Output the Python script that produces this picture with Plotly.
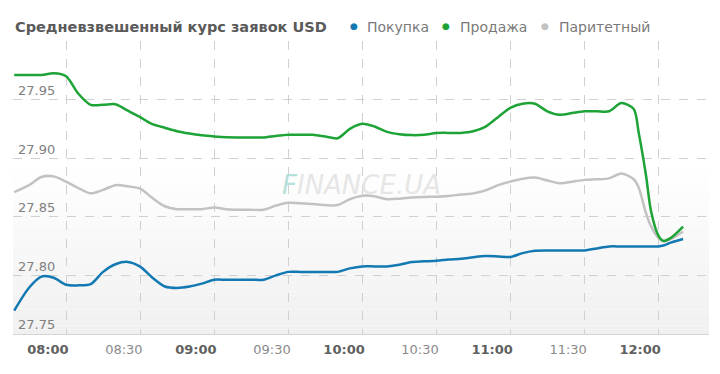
import plotly.graph_objects as go

# minutes after 08:00
minutes = [-21, -15, -10, -5, 0, 5, 10, 15, 20, 25, 30, 35, 40, 45, 50, 55, 60, 65, 70, 75,
           80, 85, 90, 95, 100, 105, 110, 115, 120, 125, 130, 135, 140, 145, 150, 155, 160,
           165, 170, 175, 180, 185, 190, 195, 200, 205, 210, 215, 220, 225, 230, 232, 235,
           237, 240, 242, 245, 250]

sell = [27.971, 27.971, 27.971, 27.9725, 27.970, 27.955, 27.9455, 27.9455, 27.946, 27.9405,
        27.935, 27.929, 27.926, 27.923, 27.921, 27.9195, 27.9185, 27.9178, 27.9177, 27.9177,
        27.9177, 27.919, 27.920, 27.920, 27.920, 27.9185, 27.917, 27.925, 27.9293, 27.927,
        27.9225, 27.9205, 27.9197, 27.920, 27.9215, 27.9216, 27.9216, 27.923, 27.927, 27.935,
        27.943, 27.9465, 27.9465, 27.940, 27.937, 27.9385, 27.940, 27.940, 27.940, 27.947,
        27.942, 27.922, 27.885, 27.855, 27.834, 27.8295, 27.832, 27.8417]

parity = [27.871, 27.877, 27.884, 27.8845, 27.880, 27.8745, 27.870, 27.873, 27.877, 27.876,
          27.874, 27.866, 27.859, 27.8565, 27.8565, 27.8565, 27.858, 27.8565, 27.856, 27.856,
          27.856, 27.8595, 27.862, 27.8615, 27.861, 27.860, 27.860, 27.865, 27.868, 27.8675,
          27.865, 27.8655, 27.8665, 27.867, 27.8672, 27.8678, 27.869, 27.870, 27.8725, 27.877,
          27.880, 27.8825, 27.8835, 27.881, 27.8786, 27.880, 27.8815, 27.882, 27.8828, 27.887,
          27.882, 27.875, 27.853, 27.842, 27.832, 27.829, 27.831, 27.8375]

buy = [27.770, 27.7895, 27.799, 27.798, 27.792, 27.7915, 27.7925, 27.803, 27.8095, 27.8115,
       27.8075, 27.798, 27.7905, 27.7893, 27.7905, 27.793, 27.7963, 27.7963, 27.7963, 27.7963,
       27.7963, 27.800, 27.803, 27.803, 27.803, 27.803, 27.803, 27.806, 27.8077, 27.8077,
       27.8077, 27.809, 27.8114, 27.812, 27.8125, 27.8135, 27.8142, 27.8155, 27.8165, 27.8162,
       27.8157, 27.819, 27.821, 27.8213, 27.8213, 27.8213, 27.8213, 27.823, 27.8247, 27.8247,
       27.8247, 27.8247, 27.8247, 27.8247, 27.8247, 27.8255, 27.828, 27.831]

tick_times = ["08:00", "08:30", "09:00", "09:30", "10:00", "10:30", "11:00", "11:30", "12:00"]
y_ticks = [27.75, 27.80, 27.85, 27.90, 27.95, 28.00]
y_labels = ["27.75", "27.80", "27.85", "27.90", "27.95", ""]

series_names = ["Покупка", "Продажа", "Паритетный"]
series_colors = ["#1379b2", "#1da336", "#c2c2c2"]
title_text = "Средневзвешенный курс заявок USD"

DAY = "2013-01-01"


def to_ts(m):
    total = 8 * 60 * 60 + int(round(m * 60))
    h, rem = divmod(total, 3600)
    mi, s = divmod(rem, 60)
    return f"{DAY} {h:02d}:{mi:02d}:{s:02d}"


xs = [to_ts(m) for m in minutes]

fig = go.Figure()
# draw gray first, then green, then blue on top
for name, vals, col in [(series_names[2], parity, series_colors[2]),
                        (series_names[1], sell, series_colors[1]),
                        (series_names[0], buy, series_colors[0])]:
    fig.add_trace(go.Scatter(x=xs, y=vals, mode="lines", name=name,
                             line=dict(color=col, width=2.5, shape="spline", smoothing=0.8),
                             showlegend=False, hoverinfo="skip"))

# background gradient (white top -> light gray bottom)
N = 40
g_top = 0.58
for i in range(N):
    y0 = g_top * i / N
    y1 = g_top * (i + 1) / N
    frac = 1 - (i + 0.5) / N
    c = int(round(255 - 15 * frac))
    fig.add_shape(type="rect", xref="paper", yref="paper", x0=0, x1=1, y0=y0, y1=y1,
                  fillcolor=f"rgb({c},{c},{c})", line=dict(width=0), layer="below")

tickvals = [f"{DAY} {t}:00" for t in tick_times]
ticktext = []
for t in tick_times:
    if t.endswith(":00"):
        ticktext.append(f"<b><span style='color:#606060'>{t}</span></b>")
    else:
        ticktext.append(f"<span style='color:#8a8a8a'>{t}</span>")

fig.update_xaxes(type="date", range=[to_ts(-21.5), to_ts(260.5)],
                 tickmode="array", tickvals=tickvals, ticktext=ticktext,
                 ticklabelposition="outside left", ticklabelstandoff=3, ticklabelshift=3,
                 tickfont=dict(family="DejaVu Sans", size=13, color="#606060"),
                 showgrid=True, gridcolor="#d0d0d0", griddash="dash", gridwidth=1,
                 showline=True, linecolor="#d4d4d4", linewidth=1,
                 ticks="", zeroline=False, fixedrange=True)
fig.update_yaxes(range=[27.75, 28.00], tickmode="array", tickvals=y_ticks, ticktext=y_labels,
                 ticklabelposition="inside top", ticklabelstandoff=2,
                 tickfont=dict(family="DejaVu Sans", size=13, color="#808080"),
                 showgrid=True, gridcolor="#d0d0d0", griddash="dash", gridwidth=1,
                 showline=False, ticks="", zeroline=False, fixedrange=True)

annotations = [
    dict(text=f"<b>{title_text}</b>", x=13, y=374 - 26.5,
         showarrow=False, xanchor="left", yanchor="middle",
         font=dict(family="DejaVu Sans", size=14.5, color="#5a5a5a")),
]
legend_dot_x = [354, 446.5, 545]
legend_text_x = [365, 458, 556.5]
for name, col, dx, tx in zip(series_names, series_colors, legend_dot_x, legend_text_x):
    annotations.append(dict(text="●", x=dx, y=374 - 25.5, showarrow=False,
                            xanchor="center", yanchor="middle",
                            font=dict(family="DejaVu Sans", size=9, color=col)))
    annotations.append(dict(text=name, x=tx, y=374 - 26.5, showarrow=False,
                            xanchor="left", yanchor="middle",
                            font=dict(family="DejaVu Sans", size=14, color="#7a7a7a")))
# watermark
annotations.append(dict(text="<i><span style='color:#b6e0da'>F</span>INANCE.UA</i>",
                        x=362, y=374 - 185, showarrow=False, xanchor="center", yanchor="middle",
                        font=dict(family="DejaVu Sans", size=26, color="#e6e6e6")))

# convert pixel-positioned annotations into paper coords
W, H = 720, 374
L, R, T, B = 13, 11, 40.5, 39.5
pw, ph = W - L - R, H - T - B
for a in annotations:
    a["xref"] = "paper"
    a["yref"] = "paper"
    a["x"] = (a["x"] - L) / pw
    a["y"] = (a["y"] - B) / ph

fig.update_layout(width=W, height=H, margin=dict(l=L, r=R, t=T, b=B),
                  paper_bgcolor="white", plot_bgcolor="white",
                  annotations=annotations, showlegend=False,
                  font=dict(family="DejaVu Sans"))

fig.write_html("out.html", config={"displayModeBar": False},
               post_script="document.body.style.margin='0';")
